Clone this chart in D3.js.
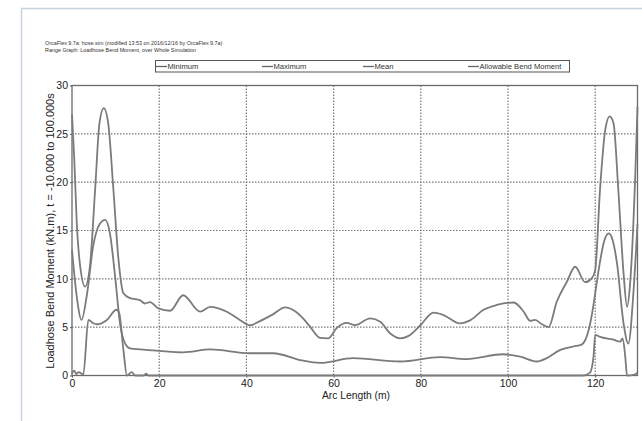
<!DOCTYPE html>
<html lang="en">
<head>
<meta charset="UTF-8">
<title>Range Graph</title>
<script src="https://cdnjs.cloudflare.com/ajax/libs/d3/7.8.5/d3.min.js"></script>
<style>
  body { margin: 0; background: #fff; }
  svg { display: block; font-family: "Liberation Sans", Arial, sans-serif; }
</style>
</head>
<body>
<svg id="chart" width="642" height="421"></svg>
<script>
// header / legend text
var headerLines = [
    "OrcaFlex 9.7a: hose.sim (modified 13:53 on 2016/12/16 by OrcaFlex 9.7a)",
    "Range Graph: Loadhose Bend Moment, over Whole Simulation"
];
var seriesNames = ["Minimum", "Maximum", "Mean", "Allowable Bend Moment"];
var xTicks = [0, 20, 40, 60, 80, 100, 120];
var yTicks = [0, 5, 10, 15, 20, 25, 30];

// Maximum
var maxX = [0, 0.5, 1.1, 1.8, 3.0, 4.1, 5.3, 6.3, 7.3, 8.3, 9.5, 10.6, 11.8, 13.3, 15.6, 16.7, 17.9, 19.8,
    22.5, 25.5, 29.4, 31.7, 35.5, 38.5, 40.8, 43, 46, 48.9, 51, 53, 54.6, 56.9, 58.8, 60.7, 63, 64.9, 68.4,
    70.7, 73, 75.3, 77.2, 79.9, 82.9, 85.2, 89, 91.3, 94.4, 97.4, 101.3, 103.6, 105.1, 106.2, 107.8, 109.3,
    111.2, 113.5, 115.4, 117.7, 119.2, 120, 121.1, 122.3, 123.3, 124.2, 125.3, 126.5, 127.3, 128, 129.2, 129.7];
var maxY = [27, 22.6, 15.7, 11.6, 9.2, 11.25, 19.2, 26.1, 27.65, 26.1, 19.2, 12.3, 8.5, 8.0, 7.8, 7.45, 7.6, 6.95,
    6.7, 8.3, 6.6, 7.1, 6.6, 5.75, 5.2, 5.6, 6.3, 7.05, 6.7, 5.9, 5.05, 3.9, 3.85, 4.9, 5.45, 5.2, 5.9,
    5.55, 4.35, 3.85, 4.1, 5.2, 6.5, 6.25, 5.4, 5.7, 6.8, 7.3, 7.55, 6.6, 5.65, 5.75, 5.3, 5.0,
    7.65, 9.7, 11.25, 9.65, 10.05, 10.9, 19.2, 25.4, 26.8, 26.1, 19.2, 10.6, 7.1, 9.5, 20.9, 27.8];

// Mean
var meanX = [0, 1.0, 2.2, 3.4, 4.9, 6.4, 7.6, 8.7, 9.9, 11, 12.2, 13.3, 15.6, 20, 25.5, 31.7, 40.8, 46.2, 52.3,
    56.9, 64.5, 75.3, 84.4, 90.5, 98.9, 102.8, 106.6, 108.9, 112, 115, 116.9, 118.5, 119.5, 120, 121, 122,
    123.1, 124, 125, 126.5, 127.6, 128.8, 129.7];
var meanY = [13, 8.5, 5.75, 8.3, 13.5, 15.7, 16.1, 14.7, 10.2, 5.4, 3.3, 2.8, 2.7, 2.55, 2.4, 2.7, 2.3, 2.3, 1.6,
    1.3, 1.8, 1.45, 1.9, 1.7, 2.2, 1.95, 1.45, 1.8, 2.65, 3.0, 3.2, 4.7, 7, 8.5, 11.5, 13.8,
    14.7, 14, 11.6, 5.4, 3.3, 8.8, 15.7];

// Minimum
var minX = [0, 0.5, 1.0, 1.5, 2.6, 3.75, 4.9, 5.7, 8, 10.2, 10.8, 11.8, 12.6, 13.7, 14.5, 16.5, 17, 17.5,
    117.3, 118.8, 119.6, 120, 121.1, 124.2, 125.7, 126.3, 126.9, 127.3, 129, 129.7];
var minY = [0.2, 0.5, 0.15, 0.35, 0.1, 5.75, 5.4, 5.3, 5.75, 6.8, 6.5, 2.6, 0, 0.35, 0, 0, 0.2, 0,
    0, 0.3, 1.9, 4.2, 4.0, 3.7, 3.5, 3.85, 1.9, 0, 0.1, 0.3];

var svg = d3.select("#chart"),
    margin = {top: 85.5, right: 4.5, bottom: 45.5, left: 72},
    width = +svg.attr("width") - margin.left - margin.right,
    height = +svg.attr("height") - margin.top - margin.bottom;

// outer frame of the pasted figure
svg.append("rect")
    .attr("x", 21.5).attr("y", 8.5)
    .attr("width", 700).attr("height", 500)
    .attr("fill", "none")
    .attr("stroke", "#c9d3df")
    .attr("stroke-width", 1.5);

svg.selectAll(".hdr")
    .data(headerLines)
    .enter().append("text")
    .attr("class", "hdr")
    .attr("x", 45)
    .attr("y", function(d, i) { return 45 + i * 6.5; })
    .attr("font-size", "5.4px")
    .attr("fill", "#333")
    .text(function(d) { return d; });

var x = d3.scaleLinear().domain([0, 129.7]).range([0, width]);
var y = d3.scaleLinear().domain([0, 30]).range([height, 0]);

var g = svg.append("g").attr("transform", "translate(" + margin.left + "," + margin.top + ")");

// grid
g.selectAll(".vgrid")
    .data(xTicks.slice(1))
    .enter().append("line")
    .attr("x1", function(d) { return x(d); })
    .attr("x2", function(d) { return x(d); })
    .attr("y1", 0).attr("y2", height)
    .attr("stroke", "#777").attr("stroke-width", 1.2)
    .attr("stroke-dasharray", "1.5,1.5");
g.selectAll(".hgrid")
    .data(yTicks.slice(1, -1))
    .enter().append("line")
    .attr("x1", 0).attr("x2", width)
    .attr("y1", function(d) { return y(d); })
    .attr("y2", function(d) { return y(d); })
    .attr("stroke", "#777").attr("stroke-width", 1.2)
    .attr("stroke-dasharray", "1.5,1.5");

// axes
var xAxis = g.append("g")
    .attr("transform", "translate(0," + height + ")")
    .call(d3.axisBottom(x).tickValues(xTicks).tickSize(2).tickPadding(2));
var yAxis = g.append("g")
    .call(d3.axisLeft(y).tickValues(yTicks).tickSize(2).tickPadding(2));
[xAxis, yAxis].forEach(function(a) {
    a.select(".domain").remove();
    a.selectAll("line").attr("stroke", "#555");
    a.selectAll("text")
        .attr("font-family", "Liberation Sans, Arial, sans-serif")
        .attr("font-size", "10.5px")
        .attr("fill", "#222");
});

// plot border
g.append("rect")
    .attr("width", width).attr("height", height)
    .attr("fill", "none")
    .attr("stroke", "#6a6a6a")
    .attr("stroke-width", 1.3);

// curves
var line = d3.line()
    .x(function(d) { return x(d[0]); })
    .y(function(d) { return y(d[1]); })
    .curve(d3.curveMonotoneX);

[[minX, minY], [maxX, maxY], [meanX, meanY]].forEach(function(s) {
    g.append("path")
        .datum(d3.zip(s[0], s[1]))
        .attr("fill", "none")
        .attr("stroke", "#7b7b7b")
        .attr("stroke-width", 1.8)
        .attr("d", line);
});

// axis titles
svg.append("text")
    .attr("x", 356).attr("y", 399)
    .attr("text-anchor", "middle")
    .attr("font-size", "10.3px")
    .attr("fill", "#222")
    .text("Arc Length (m)");
svg.append("text")
    .attr("transform", "translate(54,231) rotate(-90)")
    .attr("text-anchor", "middle")
    .attr("font-size", "11px")
    .attr("fill", "#222")
    .text("Loadhose Bend Moment (kN.m), t = -10.000 to 100.000s");

// legend
var legend = svg.append("g");
legend.append("rect")
    .attr("x", 155.5).attr("y", 60.5)
    .attr("width", 414).attr("height", 11.5)
    .attr("fill", "#fff")
    .attr("stroke", "#555")
    .attr("stroke-width", 1);
var legX = [156, 262, 363, 468];
var item = legend.selectAll(".leg")
    .data(seriesNames)
    .enter().append("g")
    .attr("transform", function(d, i) { return "translate(" + legX[i] + ",66.5)"; });
item.append("line")
    .attr("x1", 0).attr("x2", 11)
    .attr("stroke", "#666").attr("stroke-width", 1.3);
item.append("text")
    .attr("x", 11.5).attr("y", 2.6)
    .attr("font-size", "7.6px")
    .attr("fill", "#333")
    .text(function(d) { return d; });
</script>
</body>
</html>
